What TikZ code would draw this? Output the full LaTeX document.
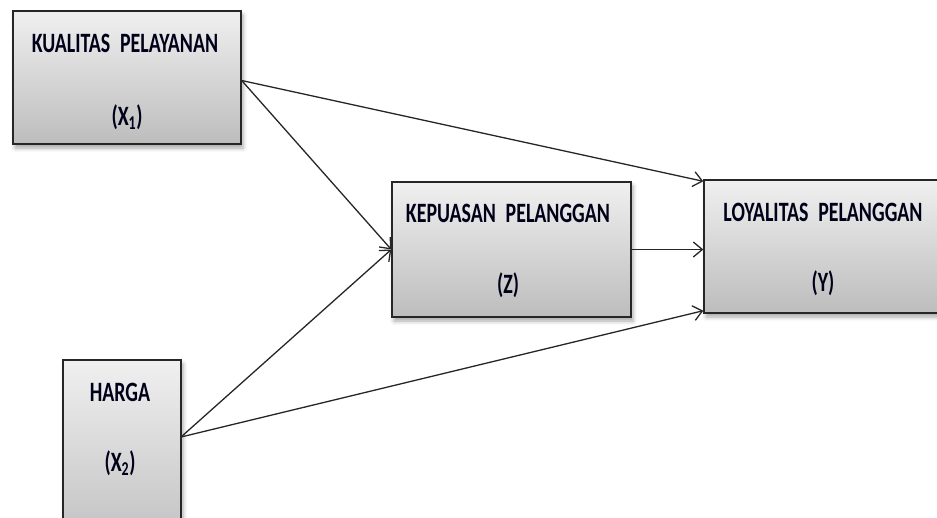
\documentclass[tikz,border=0pt]{standalone}
\usepackage{fontspec}
\setmainfont{Carlito}[FakeStretch=0.71]
\usetikzlibrary{arrows.meta,shadows.blur}
\begin{document}
\begin{tikzpicture}[x=1pt,y=-1pt,
  box/.style={draw=black!85, line width=1.4pt, top color=black!6, bottom color=black!26,
    blur shadow={shadow xshift=2pt, shadow yshift=-4pt, shadow blur radius=4pt, shadow opacity=35},
    inner sep=0pt},
  lbl/.style={font=\fontsize{28}{32}\selectfont\bfseries, text=black!90!blue, inner sep=0pt},
  conn/.style={draw=black!85, line width=1.3pt,
    -{Straight Barb[length=9pt,width=15pt,line width=1.3pt]}}]
\useasboundingbox (0,0) rectangle (937,517);
\clip (0,0) rectangle (937,517);
% boxes
\node[box, minimum width=228pt, minimum height=133pt] (x1) at (127,77.5) {};
\node[box, minimum width=239pt, minimum height=135pt] (z) at (511.5,249.5) {};
\node[box, minimum width=238pt, minimum height=133pt] (y) at (823,246.5) {};
\node[box, minimum width=118pt, minimum height=200pt] (x2) at (122,460) {};
% texts
\node[lbl] (x1a) at (125,43) {KUALITAS\hspace{0.35em}PELAYANAN};
\node[lbl] (x1b) at (127,117) {(X\textsubscript{1})};
\node[lbl] (za) at (508,213) {KEPUASAN\hspace{0.35em}PELANGGAN};
\node[lbl] (zb) at (508,285) {(Z)};
\node[lbl] (ya) at (823,212) {LOYALITAS\hspace{0.35em}PELANGGAN};
\node[lbl] (yb) at (823,283) {(Y)};
\node[lbl] (x2a) at (120,392) {HARGA};
\node[lbl] (x2b) at (120,463) {(X\textsubscript{2})};
% connection points
\coordinate (x1o) at ([yshift=-3pt]x1.east);
\coordinate (x2o) at (181,437);
% connectors
\draw[conn] (x1o) -- ([yshift=-2pt]y.north west);
\draw[conn] (x1o) -- (z.west);
\draw[conn] (z.east) -- (z.east -| y.west);
\draw[conn] (x2o) -- (z.west);
\draw[conn] (x2o) -- ([yshift=3pt]y.south west);
\end{tikzpicture}
\end{document}
